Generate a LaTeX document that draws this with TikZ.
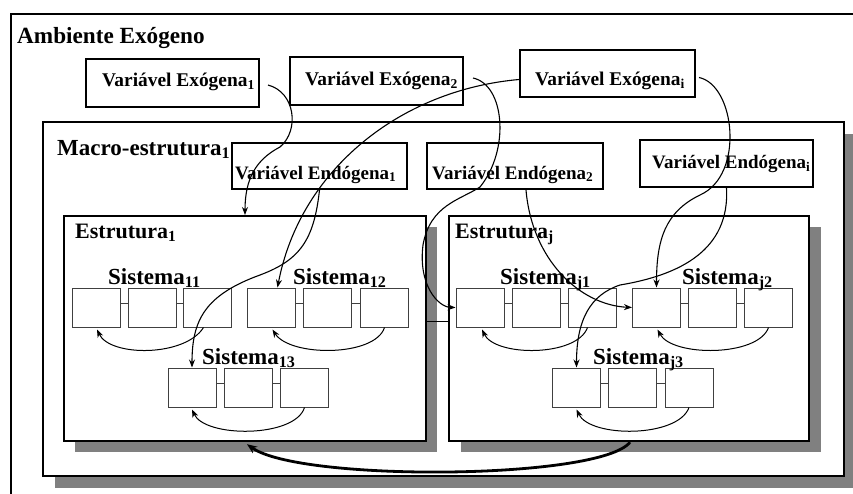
\documentclass[tikz,border=0pt]{standalone}
\usepackage{fontspec}
\setmainfont{Liberation Serif}
\usetikzlibrary{arrows.meta,shadows}
\begin{document}
\begin{tikzpicture}[x=1pt,y=-1pt,
  frame/.style={draw=black,fill=white,inner sep=0pt,anchor=north west},
  varbox/.style={draw=black,line width=2pt,fill=white,inner sep=0pt},
  sbox/.style={draw=black!75,line width=1pt,fill=white,minimum width=48pt,minimum height=39pt,inner sep=0pt},
  shade/.style={drop shadow={shadow xshift=12pt,shadow yshift=-12pt,fill=black!50,opacity=1}},
  biglbl/.style={anchor=base west,inner sep=0pt,font=\bfseries\fontsize{22}{24}\selectfont},
  varlbl/.style={anchor=base west,inner sep=0pt,font=\bfseries\fontsize{19.4}{21}\selectfont},
  endlbl/.style={anchor=base west,inner sep=0pt,font=\bfseries\fontsize{19}{21}\selectfont},
  syslbl/.style={anchor=base west,inner sep=0pt,font=\bfseries\fontsize{23}{25}\selectfont},
  flow/.style={line width=1.1pt,-{Stealth[length=8pt,width=6pt]}},
  loopback/.style={line width=1pt,-{Stealth[length=8pt,width=6pt]}},
  joint/.style={draw=black!75,line width=1pt}
]
\useasboundingbox (0,0) rectangle (853,493);
\clip (0,0) rectangle (853,493);
\fill[white] (0,0) rectangle (853,493);

% exogenous environment
\node[frame,line width=2pt,minimum width=870pt,minimum height=500pt] (amb) at (10,13) {};
\node[biglbl,font=\bfseries\fontsize{23.2}{25}\selectfont] (ambt) at (17,43) {Ambiente Exógeno};

% exogenous variables
\node[varbox,minimum width=173pt,minimum height=48pt] (exo1) at (172.5,83) {};
\node[varbox,minimum width=173pt,minimum height=48pt] (exo2) at (376.5,81) {};
\node[varbox,minimum width=175pt,minimum height=47pt] (exoi) at (607.5,73.5) {};
\node[varlbl] (exo1t) at (102,86) {Variável Exógena\textsubscript{1}};
\node[varlbl] (exo2t) at (305,85) {Variável Exógena\textsubscript{2}};
\node[varlbl] (exoit) at (535,85) {Variável Exógena\textsubscript{i}};

% macro-structure
\node[frame,shade,line width=1.5pt,minimum width=801pt,minimum height=354pt] (macro) at (42,121) {};
\node[biglbl,font=\bfseries\fontsize{23}{25}\selectfont] (macrot) at (57,155) {Macro-estrutura\textsubscript{1}};

% endogenous variables
\node[varbox,minimum width=175pt,minimum height=46pt] (endo1) at (319.5,166) {};
\node[varbox,minimum width=176pt,minimum height=46pt] (endo2) at (515,166) {};
\node[varbox,minimum width=173pt,minimum height=47pt] (endoi) at (726.5,163.5) {};
\node[endlbl] (endo1t) at (235,179) {Variável Endógena\textsubscript{1}};
\node[endlbl] (endo2t) at (432,179) {Variável Endógena\textsubscript{2}};
\node[endlbl] (endoit) at (652,168) {Variável Endógena\textsubscript{i}};

% structures
\node[frame,line width=2.2pt,minimum width=362pt,minimum height=225pt,
  drop shadow={shadow xshift=11pt,shadow yshift=-11pt,fill=black!50,opacity=1}] (estr1) at (63,215) {};
\node[frame,line width=2.2pt,minimum width=360pt,minimum height=225pt,
  drop shadow={shadow xshift=12pt,shadow yshift=-11pt,fill=black!50,opacity=1}] (estrj) at (448,215) {};
\node[biglbl] (estr1t) at (75,238) {Estrutura\textsubscript{1}};
\node[biglbl] (estrjt) at (455,238) {Estrutura\textsubscript{j}};
\draw[line width=1pt] ([yshift=7.5pt]estr1.east) -- ([yshift=7.5pt]estrj.west);

% systems of structure 1
\node[sbox] (s11a) at (96,307.5) {};
\node[sbox] (s11b) at (152,307.5) {};
\node[sbox] (s11c) at (207.5,307.5) {};
\node[sbox] (s12a) at (271.5,307.5) {};
\node[sbox] (s12b) at (327.5,307.5) {};
\node[sbox] (s12c) at (384.5,307.5) {};
\node[sbox] (s13a) at (192,387.5) {};
\node[sbox] (s13b) at (248.5,387.5) {};
\node[sbox] (s13c) at (304.5,387.5) {};
% systems of structure j
\node[sbox] (sj1a) at (480,307.5) {};
\node[sbox] (sj1b) at (536,307.5) {};
\node[sbox] (sj1c) at (592.5,307.5) {};
\node[sbox] (sj2a) at (656.5,307.5) {};
\node[sbox] (sj2b) at (712.5,307.5) {};
\node[sbox] (sj2c) at (768.5,307.5) {};
\node[sbox] (sj3a) at (576.5,387.5) {};
\node[sbox] (sj3b) at (632.5,387.5) {};
\node[sbox] (sj3c) at (689,387.5) {};

\foreach \p/\q in {s11a/s11b,s11b/s11c,s12a/s12b,s12b/s12c,s13a/s13b,s13b/s13c,
                   sj1a/sj1b,sj1b/sj1c,sj2a/sj2b,sj2b/sj2c,sj3a/sj3b,sj3b/sj3c}
  \draw[joint] ([yshift=4pt]\p.east) -- ([yshift=4pt]\q.west);

\node[syslbl] (s11t) at (108,284) {Sistema\textsubscript{11}};
\node[syslbl] (s12t) at (293,284) {Sistema\textsubscript{12}};
\node[syslbl] (s13t) at (202,364) {Sistema\textsubscript{13}};
\node[syslbl] (sj1t) at (500,284) {Sistema\textsubscript{j1}};
\node[syslbl] (sj2t) at (682,284) {Sistema\textsubscript{j2}};
\node[syslbl] (sj3t) at (593,364) {Sistema\textsubscript{j3}};

% feedback inside each system
\draw[loopback] ([xshift=-4pt]s11c.south) .. controls (185,357) and (110,357) .. ([xshift=1pt,yshift=-2pt]s11a.south);
\draw[loopback] (s12c.south) .. controls (375,357) and (290,357) .. ([xshift=1pt,yshift=-2pt]s12a.south);
\draw[loopback] (s13c.south) .. controls (295,438) and (205,438) .. ([yshift=-2pt]s13a.south);
\draw[loopback] ([xshift=-5pt]sj1c.south) .. controls (577,357) and (495,357) .. ([xshift=2pt,yshift=-2pt]sj1a.south);
\draw[loopback] (sj2c.south) .. controls (758,357) and (672,357) .. ([xshift=1pt,yshift=-2pt]sj2a.south);
\draw[loopback] (sj3c.south) .. controls (678,438) and (590,438) .. ([yshift=-2pt]sj3a.south);

% influences of the variables
\draw[flow] ([xshift=8pt,yshift=-2pt]exo1.east) .. controls (295,92) and (300,130) .. (280,147)
  .. controls (255,160) and (245,180) .. ([xshift=182pt]estr1.north west);
\draw[flow] ([xshift=9pt,yshift=3pt]exo2.east) .. controls (505,85) and (510,150) .. (480,187)
  .. controls (460,200) and (430,205) .. (423,245) .. controls (418,285) and (438,307) .. (sj1a.west);
\draw[flow] ([yshift=-6pt]exoi.west) .. controls (400,90) and (300,170) .. ([xshift=6pt]s12a.north);
\draw[flow] (endo1.south) .. controls (314,240) and (300,260) .. (260,275)
  .. controls (205,295) and (192,320) .. (s13a.north);
\draw[flow] ([xshift=11pt]endo2.south) .. controls (532,260) and (580,305) .. (sj2a.west);
\draw[flow] ([xshift=3pt,yshift=-4pt]exoi.east) .. controls (735,85) and (745,175) .. (700,195)
  .. controls (665,212) and (656.5,240) .. (sj2a.north);
\draw[flow] (endoi.south) .. controls (730,250) and (680,275) .. (620,285)
  .. controls (590,295) and (576.5,320) .. (sj3a.north);

% link between the two structures
\draw[line width=2.8pt,-{Stealth[length=10pt,width=8pt]}] ([xshift=182pt]estrj.south west)
  .. controls (600,480) and (300,482) .. ([xshift=184pt,yshift=-2pt]estr1.south west);
\end{tikzpicture}
\end{document}
